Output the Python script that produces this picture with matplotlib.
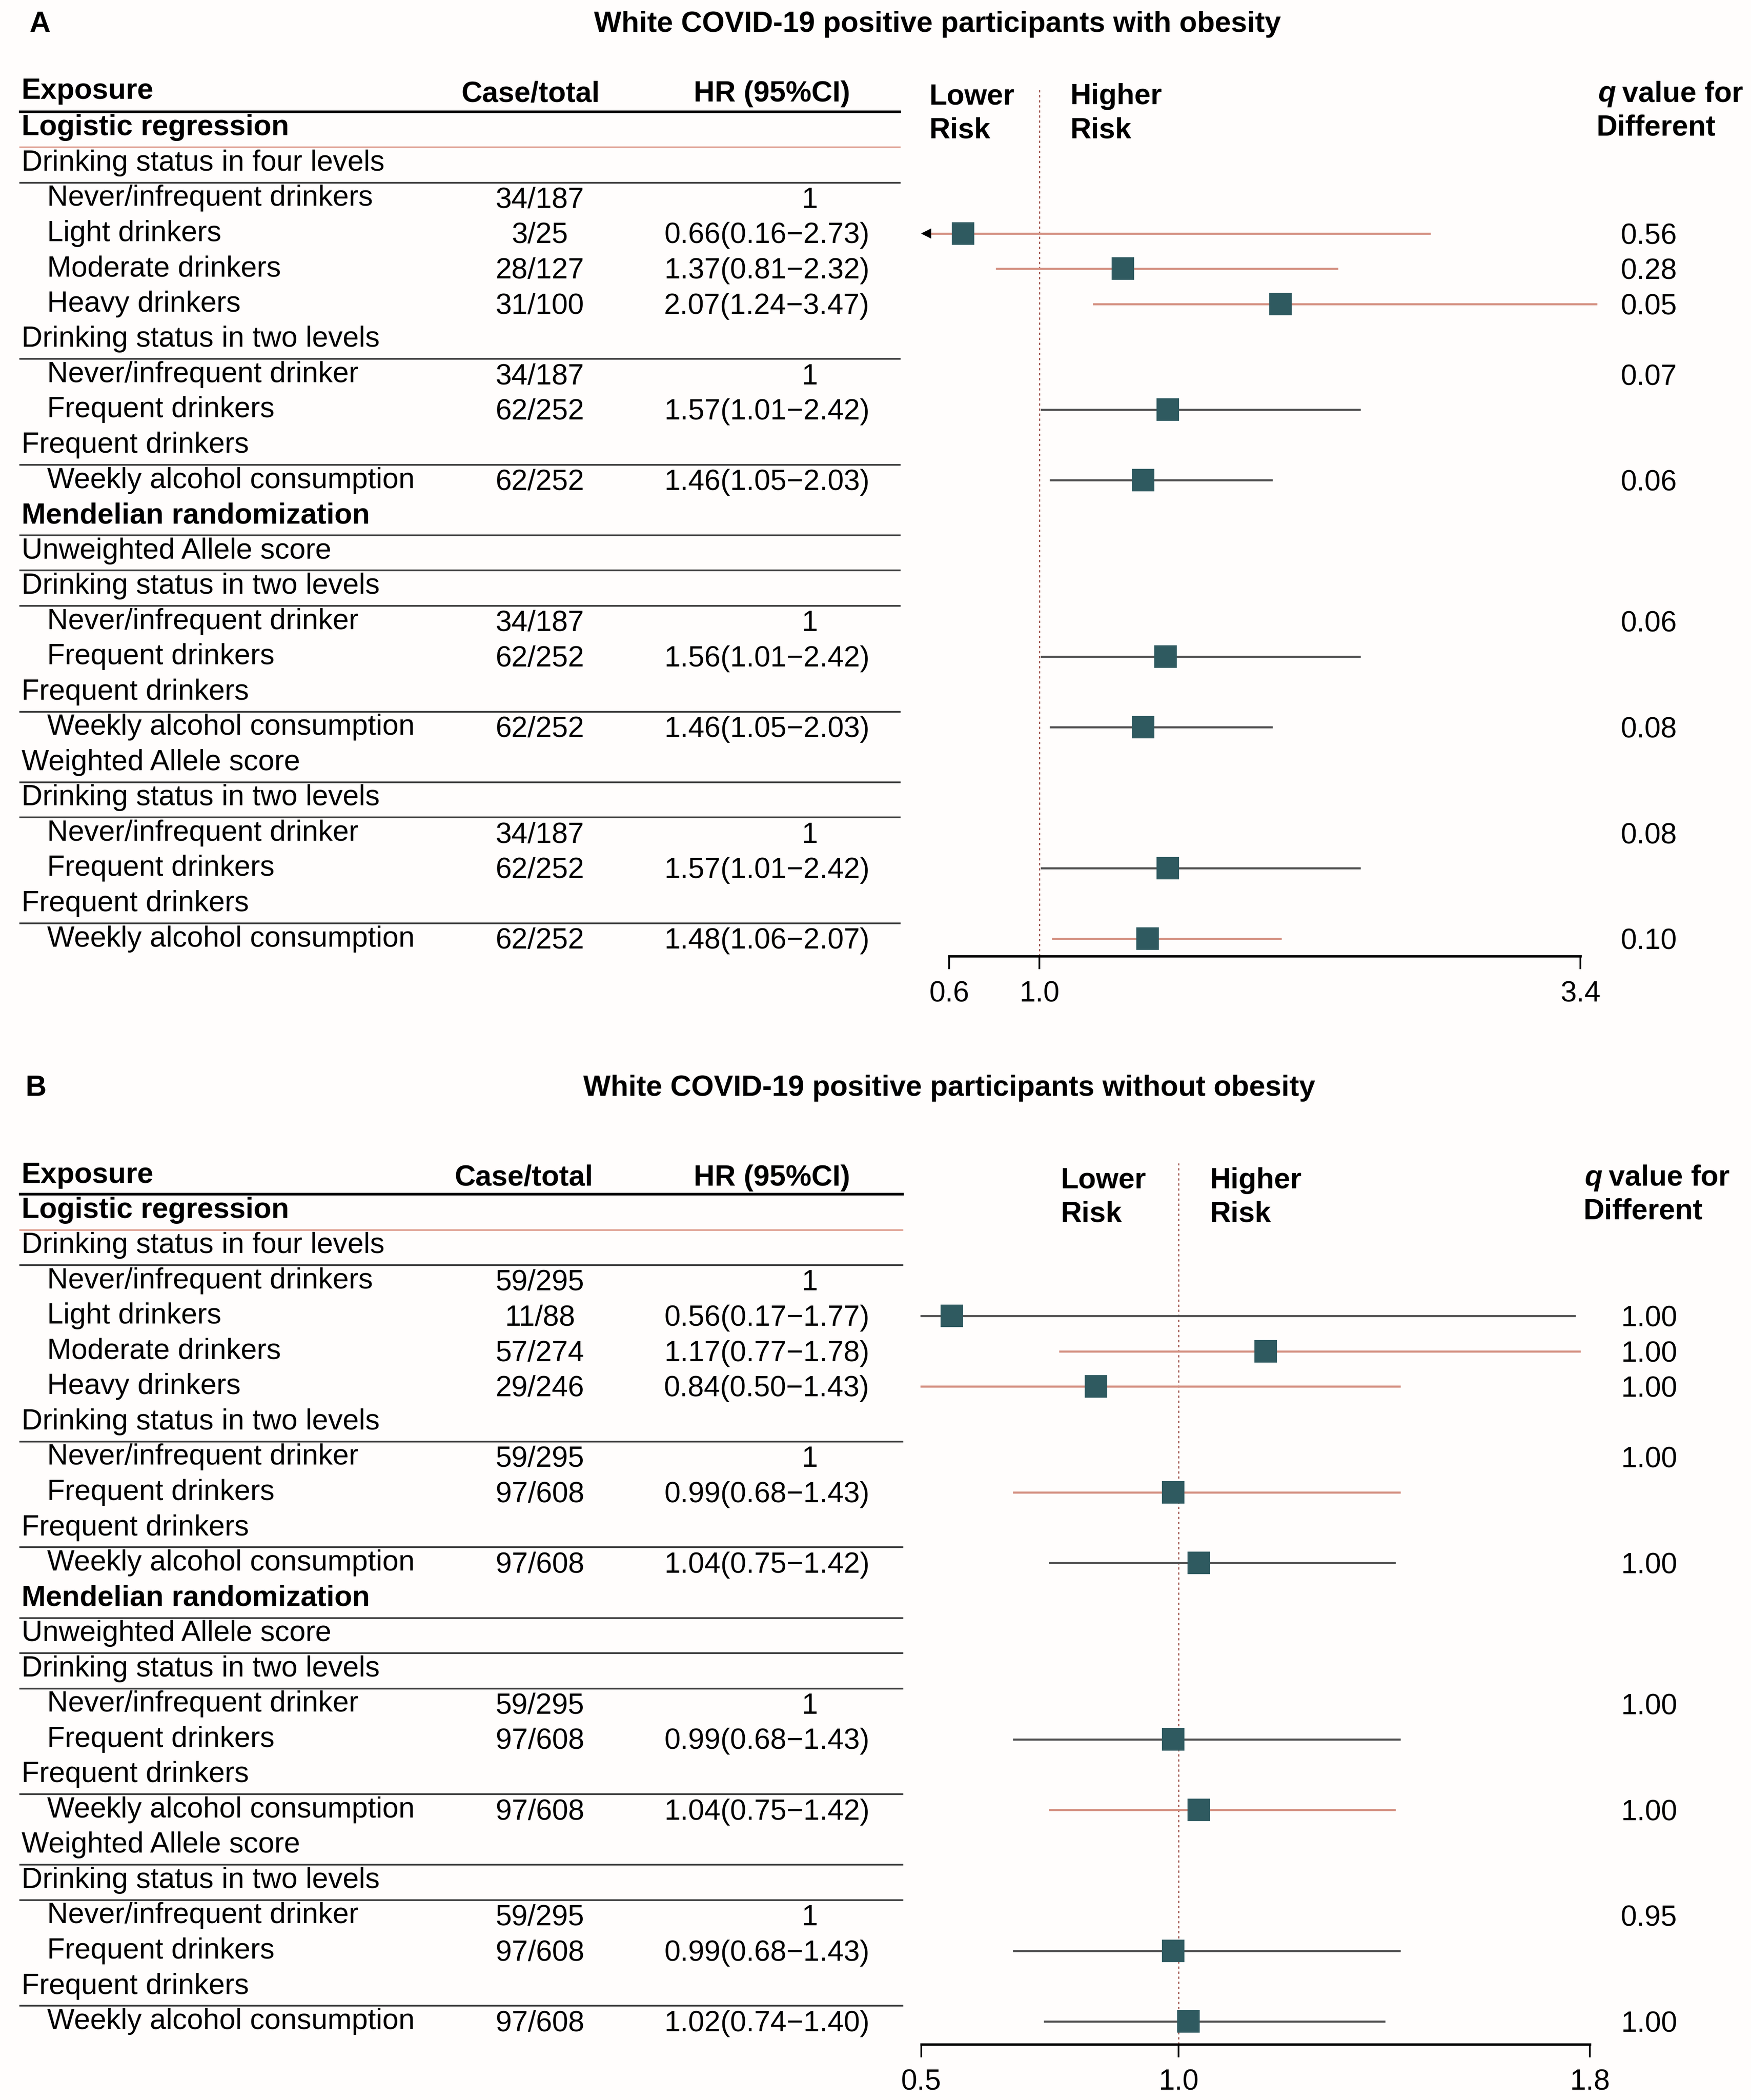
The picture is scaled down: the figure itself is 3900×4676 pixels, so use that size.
import numpy as np
import matplotlib.pyplot as plt
from matplotlib.transforms import blended_transform_factory
from matplotlib.lines import Line2D

plt.rcParams['font.family'] = ['Liberation Sans', 'DejaVu Sans']

# rows shared by both panels
ROW_LABELS = [
    "Logistic regression", "Drinking status in four levels",
    "Never/infrequent drinkers", "Light drinkers", "Moderate drinkers", "Heavy drinkers",
    "Drinking status in two levels", "Never/infrequent drinker", "Frequent drinkers",
    "Frequent drinkers", "Weekly alcohol consumption",
    "Mendelian randomization", "Unweighted Allele score", "Drinking status in two levels",
    "Never/infrequent drinker", "Frequent drinkers", "Frequent drinkers",
    "Weekly alcohol consumption", "Weighted Allele score", "Drinking status in two levels",
    "Never/infrequent drinker", "Frequent drinkers", "Frequent drinkers",
    "Weekly alcohol consumption",
]
# 0 = bold section, 1 = group heading, 2 = indented item
ROW_LEVEL = [0, 1, 2, 2, 2, 2, 1, 2, 2, 1, 2, 0, 1, 1, 2, 2, 1, 2, 1, 1, 2, 2, 1, 2]
LINE_AFTER = [0, 1, 6, 9, 11, 12, 13, 16, 18, 19, 22]

# panel A: with obesity
A_TITLE = "White COVID-19 positive participants with obesity"
A_CASES = [None, None, "34/187", "3/25", "28/127", "31/100", None, "34/187", "62/252", None,
           "62/252", None, None, None, "34/187", "62/252", None, "62/252", None, None,
           "34/187", "62/252", None, "62/252"]
A_HR = [None, None, 1, 0.66, 1.37, 2.07, None, 1, 1.57, None, 1.46, None, None, None,
        1, 1.56, None, 1.46, None, None, 1, 1.57, None, 1.48]
A_LO = [None, None, None, 0.16, 0.81, 1.24, None, None, 1.01, None, 1.05, None, None, None,
        None, 1.01, None, 1.05, None, None, None, 1.01, None, 1.06]
A_HI = [None, None, None, 2.73, 2.32, 3.47, None, None, 2.42, None, 2.03, None, None, None,
        None, 2.42, None, 2.03, None, None, None, 2.42, None, 2.07]
A_Q = [None, None, None, "0.56", "0.28", "0.05", None, "0.07", None, None, "0.06", None,
       None, None, "0.06", None, None, "0.08", None, None, "0.08", None, None, "0.10"]
A_TICKS = [0.6, 1.0, 3.4]

# panel B: without obesity
B_TITLE = "White COVID-19 positive participants without obesity"
B_CASES = [None, None, "59/295", "11/88", "57/274", "29/246", None, "59/295", "97/608", None,
           "97/608", None, None, None, "59/295", "97/608", None, "97/608", None, None,
           "59/295", "97/608", None, "97/608"]
B_HR = [None, None, 1, 0.56, 1.17, 0.84, None, 1, 0.99, None, 1.04, None, None, None,
        1, 0.99, None, 1.04, None, None, 1, 0.99, None, 1.02]
B_LO = [None, None, None, 0.17, 0.77, 0.50, None, None, 0.68, None, 0.75, None, None, None,
        None, 0.68, None, 0.75, None, None, None, 0.68, None, 0.74]
B_HI = [None, None, None, 1.77, 1.78, 1.43, None, None, 1.43, None, 1.42, None, None, None,
        None, 1.43, None, 1.42, None, None, None, 1.43, None, 1.40]
B_Q = [None, None, None, "1.00", "1.00", "1.00", None, "1.00", None, None, "1.00", None,
       None, None, "1.00", None, None, "1.00", None, None, "0.95", None, None, "1.00"]
B_TICKS = [0.5, 1.0, 1.8]

# CI line tint per row (s = salmon, d = dark)
A_LINE_TINT = {3: 's', 4: 's', 5: 's', 8: 'd', 10: 'd', 15: 'd', 17: 'd', 21: 'd', 23: 's'}
B_LINE_TINT = {3: 'd', 4: 's', 5: 's', 8: 's', 10: 'd', 15: 'd', 17: 's', 21: 'd', 23: 'd'}

W, H = 1304.0, 1563.5
FS = 15.5
SQ = '#2f5a60'
SALMON = '#d48f80'
DARK = '#505050'


def fx(x):
    return x / W


def fy(y):
    return 1 - y / H


def draw_panel(fig, letter, title, cases, hr, lo, hi, qv, ticks, tint, lay):
    row0, step = lay['row0'], 26.26
    x0, x1, ytop, ybot = lay['axis']
    ax = fig.add_axes([fx(x0), fy(ybot), fx(x1) - fx(x0), fy(ytop) - fy(ybot)])
    ax.set_facecolor('none')
    ax.set_xlim(ticks[0], ticks[-1])
    ax.set_ylim((ybot - row0) / step, (ytop - row0) / step)
    for s in ['top', 'right', 'left']:
        ax.spines[s].set_visible(False)
    ax.spines['bottom'].set_linewidth(1.3)
    ax.set_yticks([])
    ax.set_xticks(ticks)
    ax.set_xticklabels([f"{t:.1f}" for t in ticks], fontsize=FS)
    ax.tick_params(axis='x', length=7, width=0.9, pad=6)
    ax.axvline(1.0, color='#9a4a42', lw=0.6, ls=(0, (2, 2.5)), zorder=1)

    tr = blended_transform_factory(fig.transFigure, ax.transData)

    fig.text(fx(lay['letter_x']), fy(lay['title_y']), letter, fontsize=FS,
             fontweight='bold', va='center')
    fig.text(fx(lay['title_x']), fy(lay['title_y']), title, fontsize=FS,
             fontweight='bold', ha='center', va='center')

    hy = lay['head_y']
    fig.text(fx(16), fy(hy - 2), "Exposure", fontsize=FS, fontweight='bold', va='center')
    fig.text(fx(lay['case_head_x']), fy(hy), "Case/total", fontsize=FS, fontweight='bold',
             ha='center', va='center')
    fig.text(fx(575), fy(hy), "HR (95%CI)", fontsize=FS, fontweight='bold',
             ha='center', va='center')
    ry1, ry2 = lay['risk_y']
    for xx, words in [(lay['lower_x'], ("Lower", "Risk")), (lay['higher_x'], ("Higher", "Risk"))]:
        fig.text(fx(xx), fy(ry1), words[0], fontsize=FS, fontweight='bold', va='center')
        fig.text(fx(xx), fy(ry2), words[1], fontsize=FS, fontweight='bold', va='center')
    qx = lay['qhead_x']
    fig.text(fx(qx), fy(ry1 - 2), "q", fontsize=FS, fontweight='bold', style='italic',
             va='center')
    fig.text(fx(qx + 18), fy(ry1 - 2), "value for", fontsize=FS, fontweight='bold',
             va='center')
    fig.text(fx(qx - 1), fy(ry2 - 2), "Different", fontsize=FS, fontweight='bold',
             va='center')

    # table lines
    fig.add_artist(Line2D([fx(15), fx(lay['line_end'])], [-0.45, -0.45], transform=tr,
                          color='black', lw=1.4))
    for i in LINE_AFTER:
        col = '#e0a294' if i == 0 else '#3a3a3a'
        fig.add_artist(Line2D([fx(15), fx(lay['line_end'])], [i + 0.56, i + 0.56],
                              transform=tr, color=col, lw=0.9))

    for i, lab in enumerate(ROW_LABELS):
        lvl = ROW_LEVEL[i]
        ax.text(fx(35 if lvl == 2 else 16), i, lab, transform=tr, fontsize=FS,
                fontweight='bold' if lvl == 0 else 'normal', va='center', clip_on=False)
        if cases[i] is not None:
            ax.text(fx(402), i + 0.06, cases[i], transform=tr, fontsize=FS,
                    ha='center', va='center', clip_on=False)
        if hr[i] is not None:
            if lo[i] is None:
                ax.text(fx(603), i + 0.06, "1", transform=tr, fontsize=FS,
                        ha='center', va='center', clip_on=False)
            else:
                s = f"{hr[i]:.2f}({lo[i]:.2f}\u2212{hi[i]:.2f})"
                ax.text(fx(571), i + 0.06, s, transform=tr, fontsize=FS,
                        ha='center', va='center', clip_on=False)
                left = max(lo[i], lay['clip_lo'])
                c = SALMON if tint[i] == 's' else DARK
                ax.plot([left, hi[i]], [i, i], color=c, lw=1.1, zorder=2, clip_on=False)
                if lo[i] < lay['clip_lo'] and lay['arrow']:
                    ax.plot([left], [i], marker='<', ms=4, color='black', zorder=3,
                            clip_on=False)
                ax.plot([hr[i]], [i], marker='s', ms=11, color=SQ, zorder=4,
                        linestyle='none', clip_on=False)
        if qv[i] is not None:
            ax.text(fx(1228), i + 0.08, qv[i], transform=tr, fontsize=FS,
                    ha='center', va='center', clip_on=False)
    return ax


fig = plt.figure(figsize=(13.0, 15.587), dpi=300)
fig.patch.set_facecolor('#fffdfc')

lay_a = dict(row0=95, axis=(707, 1177, 65, 712), clip_lo=0.5, arrow=True,
             letter_x=22, title_x=698, title_y=18, head_y=70, case_head_x=395,
             risk_y=(72, 97), lower_x=692, higher_x=797, qhead_x=1190, line_end=670)
lay_b = dict(row0=901, axis=(686, 1184, 866, 1522), clip_lo=0.5, arrow=False,
             letter_x=19, title_x=707, title_y=810, head_y=877, case_head_x=390,
             risk_y=(879, 904), lower_x=790, higher_x=901, qhead_x=1180, line_end=672)

draw_panel(fig, "A", A_TITLE, A_CASES, A_HR, A_LO, A_HI, A_Q, A_TICKS, A_LINE_TINT, lay_a)
draw_panel(fig, "B", B_TITLE, B_CASES, B_HR, B_LO, B_HI, B_Q, B_TICKS, B_LINE_TINT, lay_b)

fig.savefig("out.png", dpi=300, facecolor=fig.get_facecolor())
